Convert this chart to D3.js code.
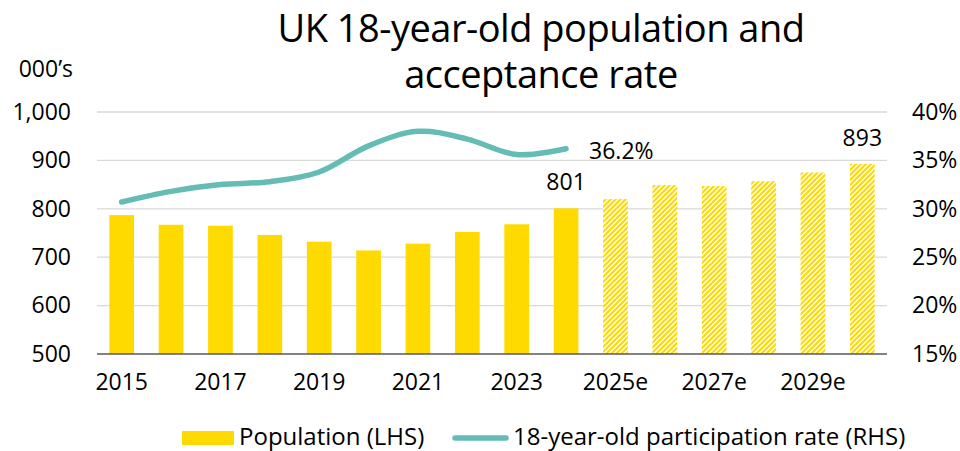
<!DOCTYPE html>
<html>
<head>
<meta charset="utf-8">
<script src="https://cdn.jsdelivr.net/npm/d3@7"></script>
<style>
  html, body { margin: 0; padding: 0; background: #fff; }
  svg { display: block; font-family: "Open Sans", "Noto Sans", sans-serif; }
</style>
</head>
<body>
<svg id="chart" width="960" height="451"></svg>
<script>
// ---- Data ----
const categories = ["2015","2016","2017","2018","2019","2020","2021","2022","2023","2024",
                    "2025e","2026e","2027e","2028e","2029e","2030e"];
const population = [787, 767, 765, 746, 732, 714, 728, 752, 768, 801,
                    820, 849, 847, 857, 875, 893];
const isEstimate = [false,false,false,false,false,false,false,false,false,false,
                    true,true,true,true,true,true];
const rateYears = ["2015","2016","2017","2018","2019","2020","2021","2022","2023","2024"];
const participationRate = [30.7, 31.8, 32.5, 32.8, 33.8, 36.5, 38.0, 37.2, 35.6, 36.2];
const leftTicks = [500, 600, 700, 800, 900, 1000];
const rightTicks = [15, 20, 25, 30, 35, 40];
const xTickLabels = ["2015","2017","2019","2021","2023","2025e","2027e","2029e"];
const titleLines = ["UK 18-year-old population and", "acceptance rate"];
const legendLabels = ["Population (LHS)", "18-year-old participation rate (RHS)"];
const annotations = [
  {series: "bar", cat: "2024", text: "801"},
  {series: "bar", cat: "2030e", text: "893"},
  {series: "line", cat: "2024", text: "36.2%"}
];

// ---- Layout ----
const svg = d3.select("#chart");
const pLeft = 97, pRight = 887, pTop = 112, pBottom = 354;
const yellow = "#FFDA00", teal = "#64BCB5";

const x = d3.scaleBand().domain(categories).range([pLeft, pRight]).paddingInner(0.5).paddingOuter(0.25);
const yL = d3.scaleLinear().domain([500, 1000]).range([pBottom, pTop]);
const yR = d3.scaleLinear().domain([15, 40]).range([pBottom, pTop]);

// hatch pattern
const defs = svg.append("defs");
const pat = defs.append("pattern").attr("id", "hatch").attr("patternUnits", "userSpaceOnUse")
  .attr("width", 5).attr("height", 5);
pat.append("rect").attr("width", 5).attr("height", 5).attr("fill", "#fff");
pat.append("path").attr("d", "M-1,1 l2,-2 M0,5 l5,-5 M4,6 l2,-2")
  .attr("stroke", yellow).attr("stroke-width", 2.2);

// title
svg.append("g").selectAll("text").data(titleLines).join("text")
  .attr("x", 541).attr("y", (d, i) => 42 + i * 46)
  .attr("text-anchor", "middle").attr("font-size", 38).attr("fill", "#000")
  .attr("letter-spacing", -0.5)
  .text(d => d);

// gridlines
svg.append("g").selectAll("line").data(leftTicks.filter(t => t !== 500)).join("line")
  .attr("x1", pLeft).attr("x2", pRight)
  .attr("y1", d => yL(d)).attr("y2", d => yL(d))
  .attr("stroke", "#D9D9D9").attr("stroke-width", 1.3);

// left axis
const axL = svg.append("g").attr("transform", `translate(${pLeft},0)`)
  .call(d3.axisLeft(yL).tickValues(leftTicks).tickSize(0).tickPadding(26).tickFormat(d3.format(",")));
axL.select(".domain").remove();
axL.selectAll("text").attr("font-size", 23).attr("font-family", "Open Sans").attr("fill", "#000");

// right axis
const axR = svg.append("g").attr("transform", `translate(${pRight},0)`)
  .call(d3.axisRight(yR).tickValues(rightTicks).tickSize(0).tickPadding(25).tickFormat(d => d + "%"));
axR.select(".domain").remove();
axR.selectAll("text").attr("font-size", 23).attr("font-family", "Open Sans").attr("fill", "#000");

// units label
svg.append("text").attr("x", 73).attr("y", 77).attr("text-anchor", "end")
  .attr("font-size", 23).attr("fill", "#000").text("000\u2019s");

// bars
svg.append("g").selectAll("rect").data(categories).join("rect")
  .attr("x", d => x(d)).attr("width", x.bandwidth())
  .attr("y", (d, i) => yL(population[i]))
  .attr("height", (d, i) => yL(500) - yL(population[i]))
  .attr("fill", (d, i) => isEstimate[i] ? "url(#hatch)" : yellow);

// baseline
svg.append("line").attr("x1", pLeft).attr("x2", pRight).attr("y1", pBottom).attr("y2", pBottom)
  .attr("stroke", "#595959").attr("stroke-width", 1.5);

// x axis labels
const axX = svg.append("g").attr("transform", `translate(0,${pBottom})`)
  .call(d3.axisBottom(x).tickValues(xTickLabels).tickSize(0).tickPadding(20));
axX.select(".domain").remove();
axX.selectAll("text").attr("font-size", 23).attr("font-family", "Open Sans").attr("fill", "#000");

// line
const line = d3.line()
  .x((d, i) => x(rateYears[i]) + x.bandwidth() / 2)
  .y(d => yR(d))
  .curve(d3.curveCatmullRom.alpha(0));
svg.append("path").datum(participationRate)
  .attr("d", line).attr("fill", "none").attr("stroke", teal)
  .attr("stroke-width", 5.5).attr("stroke-linecap", "round").attr("stroke-linejoin", "round");

// annotations
const ann = svg.append("g").attr("font-size", 23).attr("fill", "#000");
annotations.forEach(a => {
  const i = categories.indexOf(a.cat);
  const cx = x(a.cat) + x.bandwidth() / 2;
  if (a.series === "bar") {
    ann.append("text").attr("x", cx).attr("y", yL(population[i]) - 18)
      .attr("text-anchor", "middle").text(a.text);
  } else {
    const j = rateYears.indexOf(a.cat);
    ann.append("text").attr("x", cx + 23).attr("y", yR(participationRate[j]) + 10)
      .attr("text-anchor", "start").text(a.text);
  }
});

// legend
const lg = svg.append("g").attr("font-size", 24).attr("fill", "#000");
lg.append("rect").attr("x", 182).attr("y", 431).attr("width", 52).attr("height", 14).attr("fill", yellow);
lg.append("text").attr("x", 239).attr("y", 445).text(legendLabels[0]);
lg.append("line").attr("x1", 455).attr("x2", 506).attr("y1", 438).attr("y2", 438)
  .attr("stroke", teal).attr("stroke-width", 5.5).attr("stroke-linecap", "round");
lg.append("text").attr("x", 513).attr("y", 445).text(legendLabels[1]);
</script>
</body>
</html>
